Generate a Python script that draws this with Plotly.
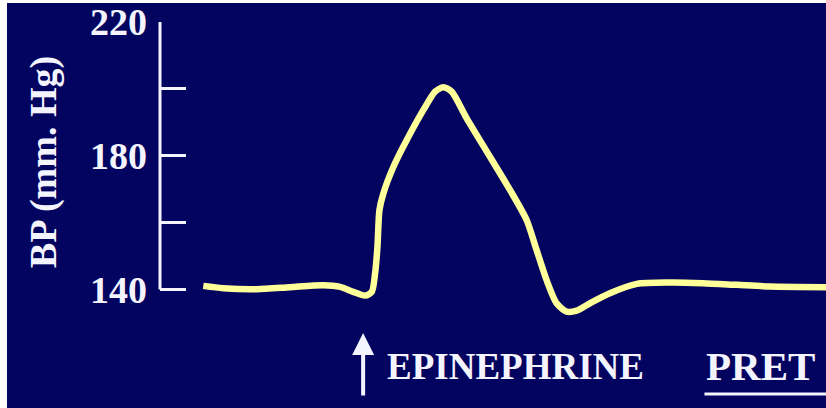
import plotly.graph_objects as go

# Time (arbitrary units) and blood pressure (mm Hg)
time_s = [13.0, 19.0, 29.0, 39.0, 49.0, 54.1, 58.0, 61.6, 63.6, 64.6, 65.3, 65.9,
          67.1, 70.1, 74.1, 79.1, 82.6, 85.1, 87.6, 92.1, 99.1, 105.1, 110.1,
          113.1, 116.1, 119.1, 122.1, 125.1, 129.1, 135.1, 143.2, 153.2, 163.1,
          173.2, 183.2, 200.0]
bp_mmhg = [141.1, 140.4, 140.1, 140.7, 141.3, 140.8, 139.3, 138.2, 139.3, 144.9,
           152.8, 163.8, 168.8, 176.7, 184.7, 193.7, 199.2, 200.5, 199.2, 191.2,
           179.7, 169.8, 160.8, 151.8, 142.8, 135.9, 133.4, 133.7, 135.9, 138.9,
           141.7, 142.1, 141.9, 141.4, 140.9, 140.7]

tick_vals = [140, 160, 180, 200, 220]
tick_text = ["140", "", "180", "", "220"]
injection_time = 61.0
epi_label_time = 67.6
pret_label_time = 163.5

NAVY = "#030360"
CURVE = "#FFFF99"
WHITE = "#F4F4FF"
FONT = "Liberation Serif"

W, H = 826, 408
ML, MR, MT, MB = 160, 0, 22, 85
PW, PH = W - ML - MR, H - MT - MB

def px(xp):
    return (xp - ML) / PW

def py(yp):
    return (H - MB - yp) / PH

fig = go.Figure()
fig.add_trace(go.Scatter(
    x=time_s, y=bp_mmhg, mode="lines",
    line=dict(color=CURVE, width=6.5, shape="spline", smoothing=0.7),
    hoverinfo="skip", showlegend=False,
))

shapes = [
    # y-axis line from 140 to 220
    dict(type="line", xref="paper", yref="y", x0=0, x1=0, y0=140, y1=220,
         line=dict(color=WHITE, width=3)),
    # underline for PRET
    dict(type="line", xref="x", yref="paper", x0=pret_label_time, x1=200,
         y0=py(394), y1=py(394), line=dict(color=WHITE, width=3)),
    # white page border strips
    dict(type="rect", xref="paper", yref="paper", x0=px(-2), x1=px(7),
         y0=py(420), y1=py(-10), fillcolor="white", line=dict(width=0), layer="above"),
    dict(type="rect", xref="paper", yref="paper", x0=px(-2), x1=px(830),
         y0=py(3), y1=py(-10), fillcolor="white", line=dict(width=0), layer="above"),
]

annotations = [
    dict(text="BP (mm. Hg)", xref="paper", yref="paper", x=px(43), y=py(162),
         textangle=-90, showarrow=False, xanchor="center", yanchor="middle",
         font=dict(family=FONT, size=38, color=WHITE, weight="bold")),
    dict(text="", xref="x", yref="paper", x=injection_time, y=py(333),
         ax=0, ay=64, showarrow=True, arrowhead=2, arrowsize=1.1,
         arrowwidth=4, arrowcolor=WHITE),
    dict(text="EPINEPHRINE", xref="x", yref="paper", x=epi_label_time, y=py(366),
         showarrow=False, xanchor="left", yanchor="middle",
         font=dict(family=FONT, size=37, color=WHITE, weight="bold")),
    dict(text="PRET", xref="x", yref="paper", x=pret_label_time, y=py(366),
         showarrow=False, xanchor="left", yanchor="middle",
         font=dict(family=FONT, size=41, color=WHITE, weight="bold")),
]

fig.update_layout(
    width=W, height=H,
    margin=dict(l=ML, r=MR, t=MT, b=MB, pad=0),
    paper_bgcolor=NAVY, plot_bgcolor=NAVY,
    shapes=shapes, annotations=annotations,
    xaxis=dict(range=[0, 200], visible=False, fixedrange=True),
    yaxis=dict(range=[130, 220], showgrid=False, zeroline=False, showline=False,
               tickmode="array", tickvals=tick_vals, ticktext=tick_text,
               ticks="inside", ticklen=26, tickwidth=3, tickcolor=WHITE,
               ticklabelstandoff=12,
               tickfont=dict(family=FONT, size=38, color=WHITE, weight="bold"),
               fixedrange=True),
)

fig.write_html(
    "out.html",
    config={"displayModeBar": False},
    post_script="document.body.style.margin='0px';document.body.style.overflow='hidden';",
)
